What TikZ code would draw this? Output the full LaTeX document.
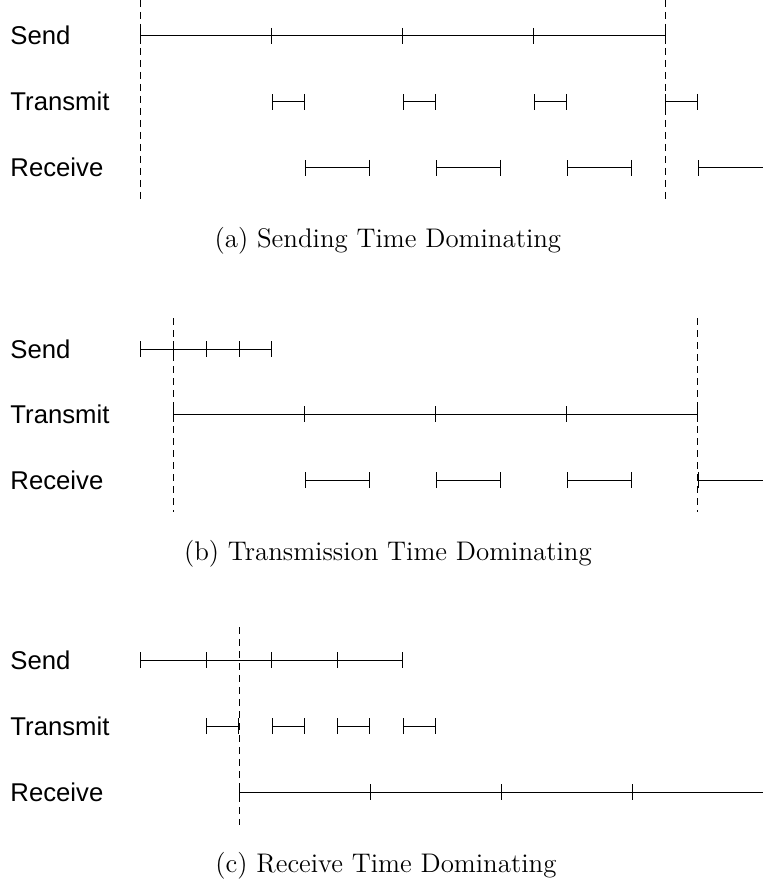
\documentclass[tikz,border=0pt]{standalone}
\usepackage{fontspec}
\setsansfont{Liberation Sans}
\usetikzlibrary{arrows.meta}

\begin{document}
\begin{tikzpicture}[x=16.375pt, y=-0.5pt, line width=0.5pt,
    every node/.style={inner sep=0pt},
    lane/.style={font=\sffamily\fontsize{12.85}{15}\selectfont, anchor=base west},
    capt/.style={font=\fontsize{13.45}{16}\selectfont, anchor=base},
    span/.style={{Bar[width=8pt]}-{Bar[width=8pt]}},
    openspan/.style={{Bar[width=8pt]}-},
    bound/.style={dash pattern=on 3.5pt off 2.5pt}]
    \useasboundingbox (-4.305,0) rectangle (19,887);

    % (a) sending time dominating
    \node[lane] (sendA) at (-4,45) {Send};
    \node[lane] (transA) at (-4,111) {Transmit};
    \node[lane] (recvA) at (-4,177) {Receive};
    \draw (0,36) -- (16,36);
    \foreach \x in {0,4,8,12,16} \draw (\x,28) -- (\x,44);
    \foreach \i in {4,8,12,16} \draw[span] (\i,102) -- ({\i+1},102);
    \foreach \i in {5,9,13} \draw[span] (\i,168) -- ({\i+2},168);
    \draw[openspan] (17,168) -- (19,168);
    \draw[bound] (0,0) -- (0,200);
    \draw[bound] (16,0) -- (16,200);
    \node[capt] (captA) at (7.54,248) {(a) Sending Time Dominating};

    % (b) transmission time dominating
    \node[lane] (sendB) at (-4,358) {Send};
    \node[lane] (transB) at (-4,423) {Transmit};
    \node[lane] (recvB) at (-4,489) {Receive};
    \draw (0,349) -- (4,349);
    \foreach \x in {0,1,2,3,4} \draw (\x,341) -- (\x,357);
    \draw (1,414) -- (17,414);
    \foreach \x in {1,5,9,13,17} \draw (\x,406) -- (\x,422);
    \foreach \i in {5,9,13} \draw[span] (\i,480) -- ({\i+2},480);
    \draw[openspan] (17,480) -- (19,480);
    \draw[bound] (1,318) -- (1,512);
    \draw[bound] (17,318) -- (17,512);
    \node[capt] (captB) at (7.54,560) {(b) Transmission Time Dominating};

    % (c) receive time dominating
    \node[lane] (sendC) at (-4,669) {Send};
    \node[lane] (transC) at (-4,735) {Transmit};
    \node[lane] (recvC) at (-4,801) {Receive};
    \draw (0,660) -- (8,660);
    \foreach \x in {0,2,4,6,8} \draw (\x,652) -- (\x,668);
    \foreach \i in {2,4,6,8} \draw[span] (\i,726) -- ({\i+1},726);
    \draw (3,792) -- (19,792);
    \foreach \x in {3,7,11,15} \draw (\x,784) -- (\x,800);
    \draw[bound] (3,627) -- (3,825);
    \node[capt] (captC) at (7.48,872) {(c) Receive Time Dominating};
\end{tikzpicture}
\end{document}
